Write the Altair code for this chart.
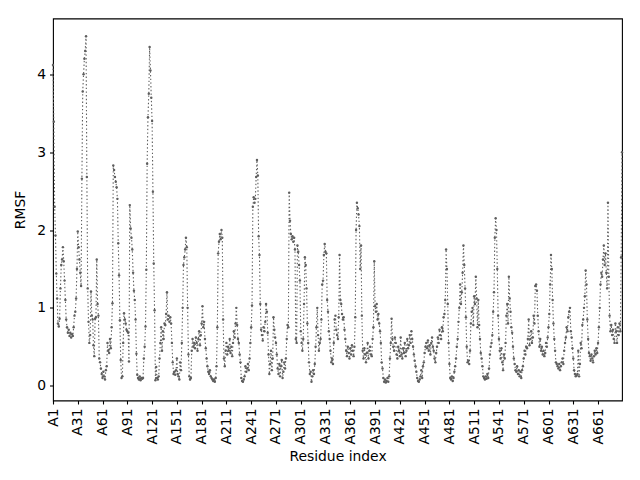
import altair as alt
import pandas as pd

# RMSF per residue (A1 ... A690)
rmsf = [
    4.12, 3.39, 2.30, 1.93, 1.44, 1.12, 0.80, 0.76, 0.86, 1.25,
    1.55, 1.62, 1.78, 1.60, 1.35, 1.10, 0.85, 0.75, 0.68, 0.72,
    0.64, 0.68, 0.62, 0.66, 0.64, 0.75, 0.90, 0.95, 1.12, 1.50,
    1.98, 1.78, 1.62, 1.45, 1.28, 2.66, 3.78, 4.00, 4.20, 4.30,
    4.49, 2.68, 1.25, 0.82, 0.55, 0.65, 1.21, 0.90, 0.85, 0.52,
    0.38, 0.86, 0.88, 1.62, 1.05, 0.90, 0.35, 0.30, 0.22, 0.15,
    0.10, 0.18, 0.12, 0.08, 0.20, 0.25, 0.55, 0.45, 0.42, 0.60,
    0.48, 0.75, 1.06, 2.83, 2.77, 2.68, 2.62, 2.55, 2.40, 1.83,
    1.42, 0.84, 0.33, 0.10, 0.12, 0.55, 0.93, 0.85, 0.80, 0.72,
    0.70, 0.68, 0.31, 2.32, 2.02, 1.90, 1.75, 1.45, 1.22, 1.10,
    0.85, 0.41, 0.14, 0.10, 0.08, 0.12, 0.07, 0.10, 0.09, 0.10,
    0.35, 0.50, 0.76, 1.49, 2.85, 3.45, 3.75, 4.35, 4.05, 3.70,
    3.40, 2.49, 1.57, 0.97, 0.07, 0.24, 0.10, 0.08, 0.12, 0.35,
    0.55, 0.75, 0.45, 0.70, 0.60, 0.80, 0.78, 0.92, 1.20, 0.85,
    0.90, 0.82, 0.88, 0.80, 0.55, 0.30, 0.15, 0.18, 0.14, 0.20,
    0.35, 0.15, 0.12, 0.08, 0.30, 0.20, 0.55, 1.00, 1.55, 1.65,
    1.75, 1.90, 1.78, 1.00, 0.40, 0.12, 0.08, 0.10, 0.45, 0.60,
    0.50, 0.55, 0.48, 0.62, 0.55, 0.45, 0.60, 0.70, 0.52, 0.65,
    0.80, 1.02, 0.75, 0.82, 0.60, 0.48, 0.35, 0.25, 0.18, 0.15,
    0.20, 0.12, 0.10, 0.08, 0.06, 0.08, 0.05, 0.10, 0.25, 0.75,
    1.70, 1.85, 1.95, 1.88, 2.00, 1.90, 0.85, 0.35, 0.25, 0.45,
    0.55, 0.40, 0.50, 0.45, 0.60, 0.42, 0.50, 0.38, 0.55, 0.70,
    0.62, 0.80, 1.00, 0.78, 0.60, 0.55, 0.40, 0.30, 0.10, 0.06,
    0.05, 0.08, 0.12, 0.25, 0.18, 0.22, 0.28, 0.20, 0.35, 0.55,
    0.75, 1.03, 2.30, 2.42, 2.35, 2.40, 2.68, 2.90, 2.70, 1.92,
    1.68, 1.05, 0.72, 0.65, 0.58, 0.75, 0.70, 0.82, 1.05, 0.95,
    0.68, 0.40, 0.15, 0.28, 0.45, 0.20, 0.35, 0.88, 0.72, 0.62,
    0.55, 0.40, 0.22, 0.15, 0.28, 0.12, 0.25, 0.33, 0.10, 0.18,
    0.30, 0.22, 0.35, 0.60, 0.78, 0.75, 2.48, 2.12, 1.95, 1.88,
    1.92, 1.85, 1.90, 1.75, 0.60, 0.55, 1.80, 1.72, 1.55, 1.35,
    0.70, 0.55, 0.45, 0.60, 1.05, 1.65, 1.55, 1.25, 0.80, 0.55,
    0.30, 0.15, 0.18, 0.05, 0.12, 0.20, 0.15, 0.28, 0.50, 0.75,
    1.00, 0.65, 0.45, 0.55, 0.60, 0.85, 1.30, 1.35, 1.68, 1.82,
    1.72, 1.70, 1.10, 0.95, 0.70, 0.60, 0.45, 0.30, 0.35, 0.28,
    0.55, 0.85, 0.90, 0.72, 0.65, 0.60, 0.88, 1.68, 1.10, 1.05,
    0.92, 0.85, 0.88, 0.72, 0.60, 0.45, 0.38, 0.50, 0.42, 0.35,
    0.48, 0.40, 0.52, 0.45, 0.38, 0.50, 0.88, 2.00, 2.35, 2.28,
    2.20, 2.05, 1.50, 1.80, 0.90, 0.45, 0.35, 0.48, 0.40, 0.30,
    0.42, 0.55, 0.35, 0.45, 0.50, 0.40, 0.38, 0.60, 0.75, 1.60,
    1.02, 0.95, 1.05, 0.85, 0.92, 0.80, 0.70, 0.55, 0.30, 0.22,
    0.10, 0.05, 0.08, 0.04, 0.06, 0.10, 0.05, 0.12, 0.35, 0.55,
    0.86, 0.60, 0.50, 0.45, 0.62, 0.55, 0.40, 0.35, 0.50, 0.45,
    0.38, 0.62, 0.40, 0.35, 0.48, 0.42, 0.55, 0.38, 0.45, 0.60,
    0.48, 0.52, 0.65, 0.55, 0.70, 0.60, 0.50, 0.40, 0.32, 0.25,
    0.18, 0.10, 0.06, 0.05, 0.08, 0.12, 0.20, 0.10, 0.25, 0.30,
    0.42, 0.50, 0.55, 0.48, 0.58, 0.45, 0.52, 0.40, 0.55, 0.62,
    0.50, 0.45, 0.35, 0.30, 0.42, 0.50, 0.62, 0.55, 0.72, 0.65,
    0.60, 0.75, 0.70, 0.88, 0.92, 1.10, 1.75, 1.50, 1.05, 0.55,
    0.28, 0.10, 0.08, 0.12, 0.06, 0.10, 0.18, 0.25, 0.35, 0.50,
    0.60, 0.82, 1.00, 1.30, 1.05, 1.20, 1.45, 1.80, 1.55, 1.25,
    0.88, 0.50, 0.30, 0.32, 0.28, 0.45, 0.80, 0.95, 1.00, 0.78,
    1.15, 1.05, 1.40, 1.12, 0.75, 1.10, 0.78, 0.60, 0.42, 0.35,
    0.25, 0.12, 0.10, 0.08, 0.12, 0.09, 0.15, 0.10, 0.22, 0.40,
    0.50, 0.55, 0.65, 0.95, 1.20, 1.90, 2.15, 2.00, 1.50, 0.90,
    0.60, 0.45, 0.35, 0.48, 0.30, 0.20, 0.40, 0.35, 0.55, 0.90,
    1.05, 0.80, 1.40, 1.12, 0.95, 0.75, 0.68, 0.50, 0.35, 0.28,
    0.20, 0.18, 0.25, 0.15, 0.20, 0.12, 0.18, 0.10, 0.20, 0.25,
    0.35, 0.45, 0.40, 0.50, 0.48, 0.60, 0.85, 0.52, 0.60, 0.70,
    0.55, 0.62, 0.90, 0.80, 1.28, 1.30, 1.22, 0.90, 0.70, 0.50,
    0.60, 0.45, 0.50, 0.40, 0.45, 0.38, 0.42, 0.55, 0.50, 0.62,
    0.75, 0.92, 1.30, 1.68, 1.50, 1.10, 0.80, 0.60, 0.45, 0.30,
    0.28, 0.25, 0.22, 0.28, 0.20, 0.25, 0.30, 0.35, 0.28, 0.45,
    0.55, 0.62, 0.75, 0.70, 0.88, 0.95, 1.00, 0.70, 0.62, 0.48,
    0.35, 0.20, 0.15, 0.12, 0.13, 0.15, 0.45, 0.12, 0.28, 0.55,
    0.48, 0.78, 0.85, 1.00, 1.15, 1.48, 1.30, 0.85, 0.60, 0.42,
    0.38, 0.32, 0.40, 0.35, 0.30, 0.38, 0.45, 0.40, 0.48, 0.42,
    0.55, 0.75, 1.00, 1.30, 1.45, 1.40, 1.62, 1.80, 1.55, 1.70,
    1.45, 1.25, 2.35, 1.40, 0.90, 0.70, 0.78, 0.65, 0.72, 0.60,
    0.55, 0.80, 0.70, 0.55, 0.75, 0.65, 0.80, 0.70, 1.65, 3.00,
]

residues = [f"A{i}" for i in range(1, len(rmsf) + 1)]
tick_labels = [f"A{i}" for i in range(1, len(rmsf) + 1, 30)]
y_ticks = [0, 1, 2, 3, 4]

df = pd.DataFrame({"idx": list(range(len(rmsf))), "residue": residues, "rmsf": rmsf})

GRAY = "#5e5e5e"
FONT = "DejaVu Sans"

x_enc = alt.X(
    "residue:N",
    sort=None,
    scale=alt.Scale(type="point", padding=0),
    axis=alt.Axis(
        values=tick_labels,
        title="Residue index",
        labelAngle=270,
        labelAlign="right",
        labelBaseline="middle",
        labelOverlap=False,
        labelPadding=4,
        titlePadding=5,
    ),
)
y_enc = alt.Y(
    "rmsf:Q",
    scale=alt.Scale(domain=[-0.19, 4.717], nice=False, zero=False),
    axis=alt.Axis(values=y_ticks, format="d", title="RMSF", titlePadding=9, labelPadding=4),
)

line = alt.Chart(df).mark_line(
    color=GRAY, strokeWidth=1.1, strokeDash=[1.4, 2.3]
).encode(x=x_enc, y=y_enc, order="idx:Q")

pts = alt.Chart(df).mark_circle(color=GRAY, size=6, opacity=1).encode(x=x_enc, y=y_enc)

chart = (
    (line + pts)
    .properties(
        width=569,
        height=382,
        padding={"left": 45, "top": 10.5, "right": 10, "bottom": 72},
        autosize=alt.AutoSizeParams(type="none"),
    )
    .configure_view(stroke="black", strokeWidth=1.1)
    .configure_axis(
        grid=False,
        domain=False,
        tickColor="black",
        tickSize=3.5,
        tickWidth=1.1,
        labelFont=FONT,
        labelFontSize=13.9,
        labelColor="black",
        titleFont=FONT,
        titleFontSize=13.9,
        titleFontWeight="normal",
        titleColor="black",
    )
)

chart.save("out.html", embed_options={"renderer": "svg", "actions": False})
